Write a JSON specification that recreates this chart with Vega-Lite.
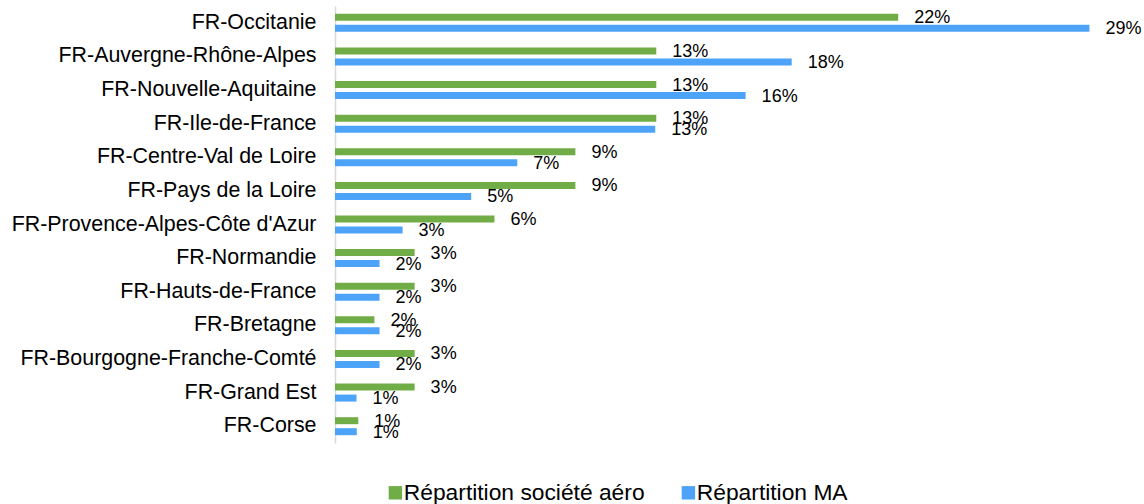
{
  "$schema": "https://vega.github.io/schema/vega-lite/v6.json",
  "autosize": {"type": "none"},
  "padding": {"left": 335, "top": 6, "right": 41, "bottom": 61},
  "width": 768,
  "height": 437,
  "data": {
    "values": [
      {"region": "FR-Occitanie", "serie": "Répartition société aéro", "value": 0.2200},
      {"region": "FR-Occitanie", "serie": "Répartition MA", "value": 0.2947},
      {"region": "FR-Auvergne-Rhône-Alpes", "serie": "Répartition société aéro", "value": 0.1255},
      {"region": "FR-Auvergne-Rhône-Alpes", "serie": "Répartition MA", "value": 0.1784},
      {"region": "FR-Nouvelle-Aquitaine", "serie": "Répartition société aéro", "value": 0.1255},
      {"region": "FR-Nouvelle-Aquitaine", "serie": "Répartition MA", "value": 0.1604},
      {"region": "FR-Ile-de-France", "serie": "Répartition société aéro", "value": 0.1255},
      {"region": "FR-Ile-de-France", "serie": "Répartition MA", "value": 0.1251},
      {"region": "FR-Centre-Val de Loire", "serie": "Répartition société aéro", "value": 0.0939},
      {"region": "FR-Centre-Val de Loire", "serie": "Répartition MA", "value": 0.0712},
      {"region": "FR-Pays de la Loire", "serie": "Répartition société aéro", "value": 0.0939},
      {"region": "FR-Pays de la Loire", "serie": "Répartition MA", "value": 0.0532},
      {"region": "FR-Provence-Alpes-Côte d'Azur", "serie": "Répartition société aéro", "value": 0.0623},
      {"region": "FR-Provence-Alpes-Côte d'Azur", "serie": "Répartition MA", "value": 0.0264},
      {"region": "FR-Normandie", "serie": "Répartition société aéro", "value": 0.0311},
      {"region": "FR-Normandie", "serie": "Répartition MA", "value": 0.0174},
      {"region": "FR-Hauts-de-France", "serie": "Répartition société aéro", "value": 0.0311},
      {"region": "FR-Hauts-de-France", "serie": "Répartition MA", "value": 0.0174},
      {"region": "FR-Bretagne", "serie": "Répartition société aéro", "value": 0.0154},
      {"region": "FR-Bretagne", "serie": "Répartition MA", "value": 0.0174},
      {"region": "FR-Bourgogne-Franche-Comté", "serie": "Répartition société aéro", "value": 0.0311},
      {"region": "FR-Bourgogne-Franche-Comté", "serie": "Répartition MA", "value": 0.0174},
      {"region": "FR-Grand Est", "serie": "Répartition société aéro", "value": 0.0311},
      {"region": "FR-Grand Est", "serie": "Répartition MA", "value": 0.0084},
      {"region": "FR-Corse", "serie": "Répartition société aéro", "value": 0.0091},
      {"region": "FR-Corse", "serie": "Répartition MA", "value": 0.0085}
    ]
  },
  "encoding": {
    "y": {
      "field": "region",
      "type": "nominal",
      "sort": null,
      "scale": {"paddingInner": 0.465, "paddingOuter": 0.2325},
      "axis": {
        "title": null,
        "ticks": false,
        "tickSize": 0,
        "labelPadding": 19,
        "labelFontSize": 21.4,
        "labelLimit": 0,
        "labelFont": "Liberation Sans",
        "labelColor": "#000000",
        "domainColor": "#D9D9D9",
        "domainWidth": 1.5,
        "grid": false
      }
    },
    "yOffset": {
      "field": "serie",
      "type": "nominal",
      "scale": {"domain": ["Répartition société aéro", "Répartition MA"], "paddingInner": 0.364, "paddingOuter": 0}
    },
    "x": {
      "field": "value",
      "type": "quantitative",
      "scale": {"domain": [0, 0.30], "nice": false},
      "axis": null
    }
  },
  "layer": [
    {
      "mark": {"type": "bar"},
      "encoding": {
        "color": {
          "field": "serie",
          "type": "nominal",
          "scale": {"domain": ["Répartition société aéro", "Répartition MA"], "range": ["#70AD47", "#4DA3F8"]},
          "legend": {
            "title": null,
            "orient": "none",
            "direction": "horizontal",
            "legendX": 49,
            "legendY": 475,
            "padding": 0,
            "symbolType": "square",
            "symbolSize": 180,
            "symbolStrokeWidth": 0,
            "labelFontSize": 22.8,
            "labelLimit": 0,
            "labelFont": "Liberation Sans",
            "labelColor": "#000000",
            "labelOffset": -3,
            "columnPadding": 32
          }
        }
      }
    },
    {
      "mark": {"type": "text", "align": "left", "baseline": "middle", "dx": 16, "dy": 1, "fontSize": 18, "font": "Liberation Sans", "color": "#000000"},
      "encoding": {
        "text": {"field": "value", "type": "quantitative", "format": ".0%"}
      }
    }
  ],
  "config": {"view": {"stroke": null}}
}
